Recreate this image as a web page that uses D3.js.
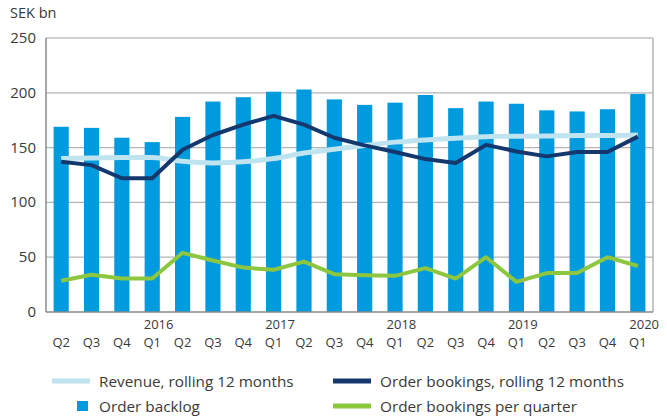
<!DOCTYPE html>
<html>
<head>
<meta charset="utf-8">
<script src="https://cdn.jsdelivr.net/npm/d3@7"></script>
<style>
  body { margin: 0; background: #fff; }
  text { font-family: "Open Sans", sans-serif; fill: #3a3a3a; }
</style>
</head>
<body>
<script>
// quarters from Q2 2015 to Q1 2020
let quarters = ["2015 Q2","2015 Q3","2015 Q4","2016 Q1","2016 Q2","2016 Q3","2016 Q4","2017 Q1","2017 Q2","2017 Q3",
  "2017 Q4","2018 Q1","2018 Q2","2018 Q3","2018 Q4","2019 Q1","2019 Q2","2019 Q3","2019 Q4","2020 Q1"];
let years = ["2016","2017","2018","2019","2020"];
let yTicks = [0, 50, 100, 150, 200, 250];

let orderBacklog = [169,168,159,155,178,192,196,201,203,194,189,191,198,186,192,190,184,183,185,199];
let revenueRolling = [140,140.5,141,141,137.5,136,137,140,145,148.5,152,155,157,158.5,160,160.3,160.5,161,161,161.5];
let bookingsRolling = [137,134,122,122,148,161.5,171,179,171,159,152,146,139.5,136,152.5,146.5,142,146,146,160];
let bookingsQuarter = [28.5,34,30.5,30.5,54,47,40.5,38.5,46,34.5,33.5,33,40,30.5,50,27.5,35.5,35.5,50,42];

let width = 667, height = 418;
let margin = { top: 38, right: 14, bottom: 106, left: 46 };
let innerW = width - margin.left - margin.right;
let innerH = height - margin.top - margin.bottom;

let svg = d3.select('body').append('svg')
    .attr('width', width)
    .attr('height', height);

let x = d3.scaleBand()
    .domain(quarters)
    .range([margin.left, margin.left + innerW])
    .paddingInner(0.5)
    .paddingOuter(0.25);

let y = d3.scaleLinear()
    .domain([0, 250])
    .range([margin.top + innerH, margin.top]);

let cx = d => x(d) + x.bandwidth() / 2;

// gridlines + frame
svg.append('g')
    .selectAll('line')
    .data(yTicks.filter(t => t > 0))
    .enter().append('line')
    .attr('x1', margin.left)
    .attr('x2', margin.left + innerW)
    .attr('y1', d => y(d))
    .attr('y2', d => y(d))
    .attr('stroke', d => d == 250 ? '#a0a0a0' : '#b4b4b4')
    .attr('stroke-width', 1.2);

svg.append('line')
    .attr('x1', margin.left + innerW).attr('x2', margin.left + innerW)
    .attr('y1', y(250)).attr('y2', y(0))
    .attr('stroke', '#a0a0a0').attr('stroke-width', 1.2);

// bars
svg.append('g')
    .selectAll('rect')
    .data(orderBacklog)
    .enter().append('rect')
    .attr('x', (d, i) => x(quarters[i]))
    .attr('width', x.bandwidth())
    .attr('y', d => y(d))
    .attr('height', d => y(0) - y(d))
    .attr('fill', '#009bde');

// axis lines
svg.append('line')
    .attr('x1', margin.left).attr('x2', margin.left)
    .attr('y1', y(250)).attr('y2', y(0))
    .attr('stroke', '#8a8a8a').attr('stroke-width', 1.5);
svg.append('line')
    .attr('x1', margin.left).attr('x2', margin.left + innerW)
    .attr('y1', y(0)).attr('y2', y(0))
    .attr('stroke', '#8a8a8a').attr('stroke-width', 1.5);

// lines
function drawLine(values, color, w, curve) {
    let line = d3.line()
        .x((d, i) => cx(quarters[i]))
        .y(d => y(d))
        .curve(curve);
    svg.append('path')
        .datum(values)
        .attr('d', line)
        .attr('fill', 'none')
        .attr('stroke', color)
        .attr('stroke-width', w)
        .attr('stroke-linejoin', 'round');
}
drawLine(revenueRolling, '#bfe4f0', 5, d3.curveMonotoneX);
drawLine(bookingsRolling, '#14386e', 4, d3.curveLinear);
drawLine(bookingsQuarter, '#8dc63f', 4, d3.curveLinear);

// y labels
svg.append('g')
    .selectAll('text')
    .data(yTicks)
    .enter().append('text')
    .attr('x', 36)
    .attr('y', d => y(d) + 5)
    .attr('text-anchor', 'end')
    .style('font-size', '15px')
    .text(d => d);

svg.append('text')
    .attr('x', 10).attr('y', 18)
    .style('font-size', '14.5px')
    .text('SEK bn');

// x labels
svg.append('g')
    .selectAll('text')
    .data(quarters)
    .enter().append('text')
    .attr('x', d => cx(d))
    .attr('y', 347)
    .attr('text-anchor', 'middle')
    .style('font-size', '13px')
    .text(d => d.split(' ')[1]);

svg.append('g')
    .selectAll('text')
    .data(years)
    .enter().append('text')
    .attr('x', d => cx(d + ' Q1') - 8.5)
    .attr('y', 329)
    .style('font-size', '13px')
    .text(d => d);

// legend
let legend = [
    { label: 'Revenue, rolling 12 months', color: '#bfe4f0', type: 'line', x: 52, y: 381 },
    { label: 'Order bookings, rolling 12 months', color: '#14386e', type: 'line', x: 333, y: 381 },
    { label: 'Order backlog', color: '#009bde', type: 'rect', x: 77, y: 406 },
    { label: 'Order bookings per quarter', color: '#8dc63f', type: 'line', x: 333, y: 406 }
];
legend.forEach(l => {
    if (l.type == 'line') {
        svg.append('line')
            .attr('x1', l.x).attr('x2', l.x + 38)
            .attr('y1', l.y).attr('y2', l.y)
            .attr('stroke', l.color).attr('stroke-width', 5);
        svg.append('text')
            .attr('x', l.x + 47).attr('y', l.y + 5.5)
            .style('font-size', '15.3px')
            .text(l.label);
    } else {
        svg.append('rect')
            .attr('x', l.x).attr('y', l.y - 5)
            .attr('width', 11).attr('height', 10)
            .attr('fill', l.color);
        svg.append('text')
            .attr('x', l.x + 22).attr('y', l.y + 5.5)
            .style('font-size', '15.3px')
            .text(l.label);
    }
});
</script>
</body>
</html>
